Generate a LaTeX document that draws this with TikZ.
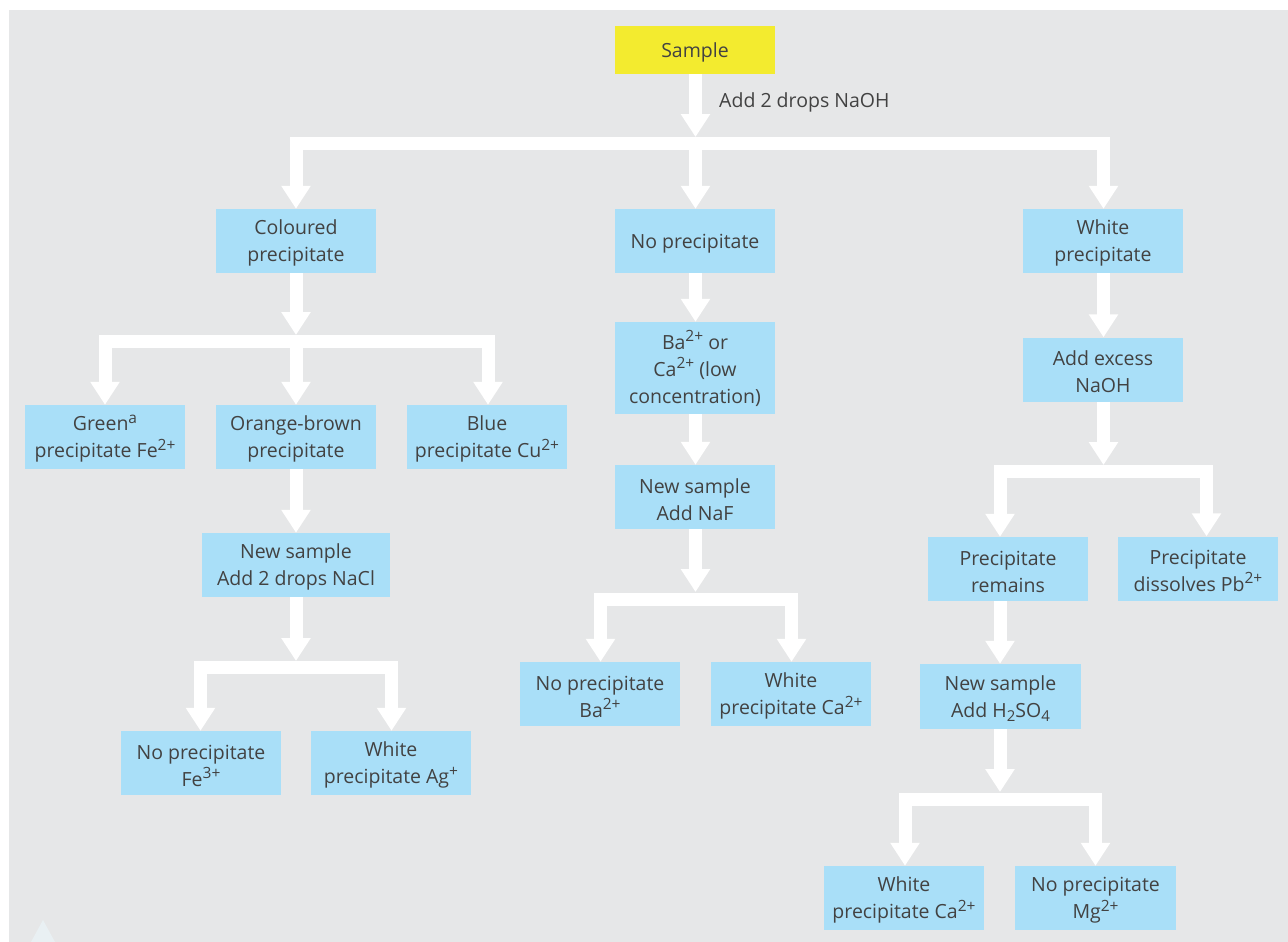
\documentclass[tikz,border=0pt]{standalone}
\usepackage{fontspec}
\setmainfont{Open Sans}
\usetikzlibrary{arrows.meta}
\definecolor{bggray}{HTML}{E6E7E8}
\definecolor{boxblue}{HTML}{A9DFF8}
\definecolor{sampleyellow}{HTML}{F3EB2F}
\definecolor{txtgray}{HTML}{424242}
\definecolor{decocyan}{HTML}{E9F0F3}
\newcommand\mysup[1]{\raisebox{0.40em}{\fontsize{15.5}{15.5}\selectfont #1}}
\newcommand\mysub[1]{\raisebox{-0.22em}{\fontsize{15}{15}\selectfont #1}}
\newcommand\mystrut{\rule{0pt}{19.5pt}}
\tikzset{
  box/.style={fill=boxblue, draw=none, minimum width=160pt, minimum height=64pt,
    inner sep=0pt, align=center, text=txtgray, font=\fontsize{19.5}{27}\selectfont},
  conn/.style={draw=white, line width=13pt, -{Triangle[width=28pt,length=23pt]}},
  fork/.style={draw=white, line width=13pt, line join=miter,
    {Triangle[width=28pt,length=23pt]}-{Triangle[width=28pt,length=23pt]}},
  lbl/.style={text=txtgray, font=\fontsize{19.5}{27}\selectfont, inner sep=0pt}
}
\begin{document}
\begin{tikzpicture}[x=1pt,y=-1pt]
\useasboundingbox (0,0) rectangle (1288,942);
\fill[white] (0,0) rectangle (1288,942);
\fill[bggray] (9,10) rectangle (1288,942);
\fill[decocyan] (31,942) -- (43,920) -- (55,942) -- cycle;

% nodes
\node[box, fill=sampleyellow, minimum height=48pt] (sample) at (695,50) {\mystrut Sample};
\node[lbl, anchor=west] (addnaoh) at (719,102) {Add 2 drops NaOH};

\node[box] (coloured) at (296,241) {\mystrut Coloured\\precipitate};
\node[box] (noprec) at (695,241) {\mystrut No precipitate};
\node[box] (whitep) at (1103,241) {\mystrut White\\precipitate};

\node[box] (green) at (105,437) {\mystrut Green\mysup{a}\\precipitate Fe\mysup{2+}};
\node[box] (orange) at (296,437) {\mystrut Orange-brown\\precipitate};
\node[box] (blue) at (487,437) {\mystrut Blue\\precipitate Cu\mysup{2+}};

\node[box, minimum width=188pt] (nacl) at (296,565) {\mystrut New sample\\Add 2 drops NaCl};
\node[box] (fe3) at (201,763) {\mystrut No precipitate\\Fe\mysup{3+}};
\node[box] (ag) at (391,763) {\mystrut White\\precipitate Ag\mysup{+}};

\node[box, minimum height=92pt] (baca) at (695,368) {\mystrut Ba\mysup{2+} or\\Ca\mysup{2+} (low\\concentration)};
\node[box] (naf) at (695,497) {\mystrut New sample\\Add NaF};
\node[box] (ba) at (600,694) {\mystrut No precipitate\\Ba\mysup{2+}};
\node[box] (caone) at (791,694) {\mystrut White\\precipitate Ca\mysup{2+}};

\node[box] (excess) at (1103,369.5) {\mystrut Add excess\\NaOH};
\node[box] (remains) at (1008,569) {\mystrut Precipitate\\remains};
\node[box] (dissolves) at (1198,568.5) {\mystrut Precipitate\\dissolves Pb\mysup{2+}};
\node[box, minimum width=161pt, minimum height=65pt] (h2so4) at (1000.5,696.5) {\mystrut New sample\\Add H\mysub{2}SO\mysub{4}};
\node[box] (catwo) at (904,898) {\mystrut White\\precipitate Ca\mysup{2+}};
\node[box, minimum width=161pt] (mg) at (1095.5,898) {\mystrut No precipitate\\Mg\mysup{2+}};

% junction coordinates
\coordinate (j1) at (695.5,137);   \coordinate (b1) at (695.5,143.5);
\coordinate (j2) at (296,335);     \coordinate (b2) at (296,341.5);
\coordinate (j3) at (296,661);     \coordinate (b3) at (296,667);
\coordinate (j4) at (695.5,592);   \coordinate (b4) at (695.5,599);
\coordinate (j5) at (1103.5,465);  \coordinate (b5) at (1103.5,471.5);
\coordinate (j6) at (1000,792);    \coordinate (b6) at (1000,799);

% connectors
\draw[conn] ([xshift=0.5pt]sample.south) -- (j1);
\draw[fork] (coloured.north) |- (b1) -| ([xshift=0.5pt]whitep.north);
\draw[conn] (b1) -- ([xshift=0.5pt]noprec.north);

\draw[conn] (coloured.south) -- (j2);
\draw[fork] (green.north) |- (b2) -| ([xshift=1pt]blue.north);
\draw[conn] (b2) -- (orange.north);

\draw[conn] (orange.south) -- (nacl.north);
\draw[conn] (nacl.south) -- (j3);
\draw[fork] ([xshift=-0.5pt]fe3.north) |- (b3) -| ([xshift=0.5pt]ag.north);

\draw[conn] ([xshift=0.5pt]noprec.south) -- ([xshift=0.5pt]baca.north);
\draw[conn] ([xshift=0.5pt]baca.south) -- ([xshift=0.5pt]naf.north);
\draw[conn] ([xshift=0.5pt]naf.south) -- (j4);
\draw[fork] ([xshift=0.5pt]ba.north) |- (b4) -| ([xshift=0.5pt]caone.north);

\draw[conn] ([xshift=0.5pt]whitep.south) -- ([xshift=0.5pt]excess.north);
\draw[conn] ([xshift=0.5pt]excess.south) -- (j5);
\draw[fork] ([xshift=-8pt]remains.north) |- (b5) -| ([xshift=8.5pt]dissolves.north);

\draw[conn] ([xshift=-8pt]remains.south) -- ([xshift=-0.5pt]h2so4.north);
\draw[conn] ([xshift=-0.5pt]h2so4.south) -- (j6);
\draw[fork] ([xshift=1pt]catwo.north) |- (b6) -| (mg.north);
\end{tikzpicture}
\end{document}
